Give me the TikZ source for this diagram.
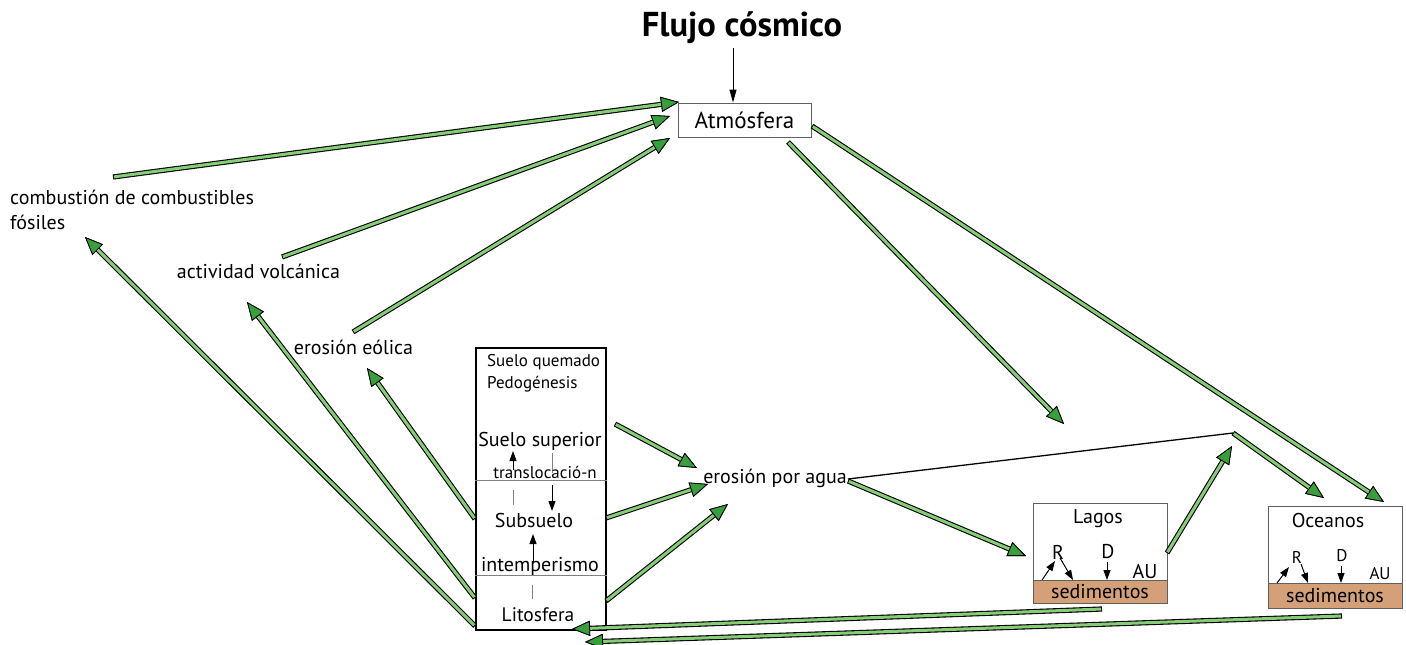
\documentclass[tikz,border=0pt]{standalone}
\usepackage{fontspec}
\setmainfont{PT Sans}
\usetikzlibrary{arrows.meta}
\definecolor{gshaft}{RGB}{135,205,120}
\definecolor{gtip}{RGB}{55,160,60}
\definecolor{sed}{RGB}{212,160,120}
\definecolor{boxgray}{RGB}{95,95,95}
\begin{document}
\begin{tikzpicture}[x=1pt,y=-1pt,
  lbl/.style={inner sep=0pt, font=\fontsize{20}{25}\selectfont},
  small/.style={inner sep=0pt, font=\fontsize{17}{21}\selectfont},
  tiny/.style={inner sep=0pt, font=\fontsize{17}{19}\selectfont},
  garrow/.style={line width=3pt, draw=gshaft, shorten <=1pt,
     preaction={draw=black, line width=5.2pt, shorten <=0pt},
     -{Triangle[length=18pt,width=15pt,line width=0.8pt,fill=gtip,color=black]}},
  barrow/.style={line width=1pt, -{Triangle[length=10pt,width=7pt]}},
  glin/.style={draw=gray, line width=0.8pt},
  gbox/.style={draw=boxgray, line width=0.9pt, inner sep=0pt},
]
\useasboundingbox (0,0) rectangle (1406,645);

% ---- text nodes
\node[inner sep=0pt, font=\fontsize{34.5}{38}\selectfont\bfseries] (flujo) at (742,28) {Flujo cósmico};
\node[gbox, font=\fontsize{23}{26}\selectfont, minimum width=133pt, minimum height=34pt] (atm) at (744.5,120) {Atmósfera};
\node[lbl, anchor=west, align=left] (comb) at (10,209.5) {combustión de combustibles\\fósiles};
\node[lbl] (volc) at (258.5,271) {actividad volcánica};
\node[lbl] (eol) at (353.5,347) {erosión eólica};
\node[lbl] (agua) at (775,478) {erosión por agua};

% ---- soil column
\node[draw=black, line width=1.8pt, minimum width=130pt, minimum height=282pt, inner sep=0pt] (col) at (541,489) {};
\coordinate (h1) at (541,480);
\coordinate (h2) at (541,575);
\draw[glin] (col.west |- h1) -- (col.east |- h1);
\draw[glin] (col.west |- h2) -- (col.east |- h2);
\node[small, anchor=west] (sq) at (487,362) {Suelo quemado};
\node[small, anchor=west] (ped) at (487,384) {Pedogénesis};
% internal arrows and lines
\coordinate (a1) at (513,470); \coordinate (a2) at (513,451);
\coordinate (a3) at (513,490); \coordinate (a4) at (513,505);
\coordinate (b1) at (552,453); \coordinate (b2) at (552,473);
\coordinate (b3) at (552,485); \coordinate (b4) at (552,511);
\coordinate (c1) at (533,562); \coordinate (c2) at (533,534);
\coordinate (c3) at (532,585); \coordinate (c4) at (532,599);
\draw[glin] (a3) -- (a4);
\draw[glin] (b1) -- (b2);
\draw[glin] (c3) -- (c4);
\draw[barrow] (a1) -- (a2);
\draw[barrow] (b3) -- (b4);
\draw[barrow] (c1) -- (c2);
\node[lbl] (ss) at (540,441) {Suelo superior};
\node[small] (tr) at (545,472) {translocació-n};
\node[lbl] (sub) at (534,520) {Subsuelo};
\node[lbl] (int) at (540,566) {intemperismo};
\node[lbl, font=\fontsize{19.5}{23}\selectfont] (lit) at (538,615) {Litosfera};

% ---- Lagos
\node[gbox, minimum width=134pt, minimum height=100pt] (lagos) at (1100,553) {};
\node[gbox, fill=sed, minimum width=134pt, minimum height=23pt, anchor=south, lbl] (sedL) at (lagos.south) {sedimentos};
\node[lbl] (lagT) at (1098,519) {Lagos};
\node[lbl] (lagR) at (1058,552) {R};
\node[lbl] (lagD) at (1108,552) {D};
\node[lbl] (lagAU) at (1145,571) {AU};
\coordinate (lr1) at (1042,580); \coordinate (lr2) at (1055,561);
\coordinate (lr3) at (1060,558); \coordinate (lr4) at (1073,580);
\coordinate (ld1) at (1107,562); \coordinate (ld2) at (1107,580);
\draw[barrow] (lr1) -- (lr2);
\draw[barrow] (lr3) -- (lr4);
\draw[barrow] (ld1) -- (ld2);

% ---- Oceanos
\node[gbox, minimum width=134pt, minimum height=102pt] (oce) at (1335,557) {};
\node[gbox, fill=sed, minimum width=134pt, minimum height=25pt, anchor=south, lbl] (sedO) at (oce.south) {sedimentos};
\node[lbl] (oceT) at (1328,520) {Oceanos};
\node[tiny] (oceR) at (1297,557) {R};
\node[tiny] (oceD) at (1342,556) {D};
\node[tiny] (oceAU) at (1380,574) {AU};
\coordinate (or1) at (1277,583); \coordinate (or2) at (1289,567);
\coordinate (or3) at (1301,564); \coordinate (or4) at (1308,583);
\coordinate (od1) at (1341,566); \coordinate (od2) at (1341,583);
\draw[barrow] (or1) -- (or2);
\draw[barrow] (or3) -- (or4);
\draw[barrow] (od1) -- (od2);

% ---- cosmic flux arrow
\coordinate (fx) at (733,48);
\draw[line width=1pt, -{Triangle[length=13pt,width=7pt]}] (fx) -- (atm.north -| fx);

% ---- arrow endpoints
\coordinate (p1s) at (113,177);  \coordinate (p1e) at (679,102);
\coordinate (p2s) at (282,257);  \coordinate (p2e) at (670,116);
\coordinate (p3s) at (353,332);  \coordinate (p3e) at (670,138);
\coordinate (p4s) at (788,142);  \coordinate (p4e) at (1064,424);
\coordinate (p5s) at (812,126);  \coordinate (p5e) at (1384,502);
\coordinate (jn)  at (1233,433);
\coordinate (p6e) at (1324,498);
\coordinate (p7s) at (1167,553); \coordinate (p7e) at (1232,446);
\coordinate (p8s) at (848,481);  \coordinate (p8e) at (1026,556);
\coordinate (p9s) at (615,424);  \coordinate (p9e) at (697,468);
\coordinate (p10s) at (606,518); \coordinate (p10e) at (708,484);
\coordinate (p11s) at (606,601); \coordinate (p11e) at (728,504);
\coordinate (p12s) at (475,626); \coordinate (p12e) at (85,237);
\coordinate (p13s) at (475,598); \coordinate (p13e) at (247,302);
\coordinate (p14s) at (475,519); \coordinate (p14e) at (367,368);
\coordinate (p15s) at (1102,609); \coordinate (p15e) at (572,629);
\coordinate (p16s) at (1342,616); \coordinate (p16e) at (585,642);
\coordinate (aguaE) at (848,479);

\draw[line width=1.3pt] (aguaE) -- (jn);

\draw[garrow] (p1s) -- (p1e);
\draw[garrow] (p2s) -- (p2e);
\draw[garrow] (p3s) -- (p3e);
\draw[garrow] (p4s) -- (p4e);
\draw[garrow] (p5s) -- (p5e);
\draw[garrow] (jn) -- (p6e);
\draw[garrow] (p7s) -- (p7e);
\draw[garrow] (p8s) -- (p8e);
\draw[garrow] (p9s) -- (p9e);
\draw[garrow] (p10s) -- (p10e);
\draw[garrow] (p11s) -- (p11e);
\draw[garrow] (p12s) -- (p12e);
\draw[garrow] (p13s) -- (p13e);
\draw[garrow] (p14s) -- (p14e);
\draw[garrow] (p15s) -- (p15e);
\draw[garrow] (p16s) -- (p16e);
\end{tikzpicture}
\end{document}
